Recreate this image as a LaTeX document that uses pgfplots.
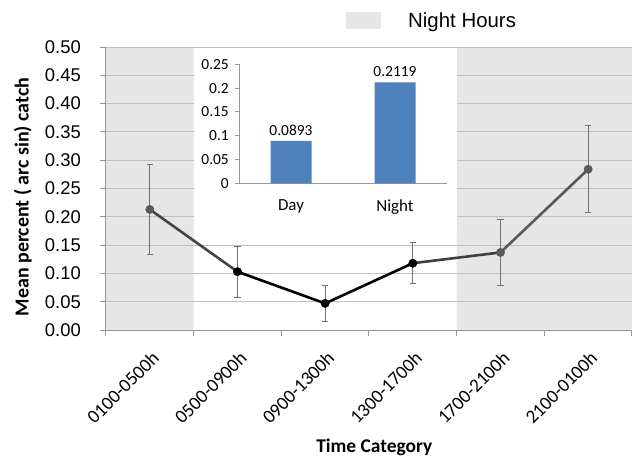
\documentclass[border=0pt]{standalone}
\usepackage{pgfplots}
\pgfplotsset{compat=1.18}
\usepackage{pgfplotstable}
\usepackage{fontspec}
\setmainfont{Carlito}
\newfontfamily\arialfont{Liberation Sans}

\definecolor{nightgray}{RGB}{230,230,230}
\definecolor{gridgray}{RGB}{192,192,192}
\definecolor{axisgray}{RGB}{150,150,150}
\definecolor{errgray}{RGB}{115,115,115}
\definecolor{ptgray}{RGB}{90,90,90}
\definecolor{barblue}{RGB}{79,129,189}

% mean catch per time category with error half-widths
\pgfplotstableread{
x y err
1 0.213 0.080
2 0.103 0.045
3 0.047 0.032
4 0.118 0.036
5 0.137 0.058
6 0.284 0.077
}\catchtable

% day / night means
\pgfplotstableread{
x y
1 0.0893
2 0.2119
}\daynight

\pgfplotsset{
  catch errors/.style={
    error bars/.cd, y dir=both, y explicit,
    error bar style={errgray, line width=1.3bp},
    error mark options={rotate=90, errgray, mark size=3.2bp, line width=1.3bp}},
  main frame/.style={scale only axis, width=526bp, height=283bp,
    xmin=0.5, xmax=6.5, ymin=0, ymax=0.5},
}

\begin{document}
\begin{tikzpicture}

% night-time bands, behind the grid
\begin{axis}[main frame, hide axis]
  \addplot[fill=nightgray, draw=none] coordinates {(0.5,0) (1.5,0) (1.5,0.5) (0.5,0.5)} \closedcycle;
  \addplot[fill=nightgray, draw=none] coordinates {(4.5,0) (6.5,0) (6.5,0.5) (4.5,0.5)} \closedcycle;
\end{axis}

\begin{axis}[
  main frame,
  axis x line*=bottom, axis y line*=left,
  axis line style={axisgray, line width=1bp},
  ytick={0,0.05,0.1,0.15,0.2,0.25,0.3,0.35,0.4,0.45,0.5},
  ymajorgrids,
  grid style={gridgray, line width=1bp},
  major tick length=6bp,
  tick align=outside,
  tick style={axisgray, line width=1bp},
  /pgf/number format/assume math mode=true,
  yticklabel style={font=\arialfont\fontsize{18.5}{18.5}\selectfont,
    /pgf/number format/fixed, /pgf/number format/fixed zerofill,
    /pgf/number format/precision=2, inner sep=0pt, xshift=-19bp},
  xtick={1,2,3,4,5,6},
  xticklabels={0100-0500h,0500-0900h,0900-1300h,1300-1700h,1700-2100h,2100-0100h},
  xtick style={draw=none},
  xticklabel style={font=\fontsize{19}{19}\selectfont, inner sep=0pt,
    xshift=1bp, yshift=-14bp, rotate=45, anchor=north east},
  extra x ticks={0.5,1.5,2.5,3.5,4.5,5.5,6.5},
  extra x tick labels={},
  extra x tick style={xtick style={draw=axisgray, line width=1bp}, grid=none},
  xlabel={Time Category},
  every axis x label/.style={at={(axis description cs:0.51,0)}, anchor=base,
    yshift=-122bp, font=\bfseries\fontsize{19.5}{19.5}\selectfont},
  ylabel={Mean percent ( arc sin) catch},
  every axis y label/.style={at={(axis description cs:-0.158,0.47)}, rotate=90,
    anchor=center, font=\bfseries\fontsize{20}{20}\selectfont},
]
  % connecting line, segment by segment
  \addplot[color=ptgray!75!black, line width=2.6bp, mark=none,
    skip coords between index={2}{6}] table[x=x, y=y]{\catchtable};
  \addplot[color=black, line width=2.6bp, mark=none,
    skip coords between index={0}{1}, skip coords between index={4}{6}]
    table[x=x, y=y]{\catchtable};
  \addplot[color=ptgray!70!black, line width=2.6bp, mark=none,
    skip coords between index={0}{3}, skip coords between index={5}{6}]
    table[x=x, y=y]{\catchtable};
  \addplot[color=ptgray, line width=2.6bp, mark=none,
    skip coords between index={0}{4}] table[x=x, y=y]{\catchtable};

  % point markers with error bars
  \addplot[only marks, mark=*, mark size=4.2bp, mark options={fill=ptgray, draw=ptgray},
    skip coords between index={1}{4}, catch errors]
    table[x=x, y=y, y error=err]{\catchtable};
  \addplot[only marks, mark=*, mark size=4.2bp, mark options={fill=black, draw=black},
    skip coords between index={0}{1}, skip coords between index={4}{6}, catch errors]
    table[x=x, y=y, y error=err]{\catchtable};
\end{axis}

% backdrop of the inset chart
\fill[white] (88bp,100bp) rectangle (351bp,282.3bp);

% inset: day vs night
\begin{axis}[
  at={(133bp,146.7bp)}, anchor=south west,
  scale only axis,
  width=208bp, height=119bp,
  xmin=0.5, xmax=2.5, ymin=0, ymax=0.25,
  axis x line*=bottom, axis y line*=left,
  axis line style={axisgray, line width=1bp},
  ytick={0,0.05,0.1,0.15,0.2,0.25},
  yticklabels={0,0.05,0.1,0.15,0.2,0.25},
  major tick length=4bp,
  tick align=outside,
  tick style={axisgray, line width=1bp},
  yticklabel style={font=\fontsize{15.5}{15.5}\selectfont, inner sep=0pt, xshift=-6bp},
  xtick={1,2},
  xticklabels={Day,Night},
  xtick style={draw=none},
  xticklabel style={font=\fontsize{17}{17}\selectfont, inner sep=0pt, yshift=-12bp},
  /pgf/number format/assume math mode=true,
  ybar,
  bar width=41bp,
  nodes near coords,
  nodes near coords style={font=\fontsize{15.5}{15.5}\selectfont,
    /pgf/number format/fixed, /pgf/number format/fixed zerofill,
    /pgf/number format/precision=4, yshift=2bp},
]
  \addplot[fill=barblue, draw=none] table[x=x, y=y]{\daynight};
\end{axis}

% legend entry
\fill[nightgray] (240bp,301bp) rectangle (275bp,318bp);
\node[anchor=west, inner sep=0pt, font=\arialfont\fontsize{20.5}{20.5}\selectfont]
  at (302bp,308bp) {Night Hours};

\pgfresetboundingbox
\useasboundingbox (-106bp,-128bp) rectangle (526bp,330bp);
\end{tikzpicture}
\end{document}
